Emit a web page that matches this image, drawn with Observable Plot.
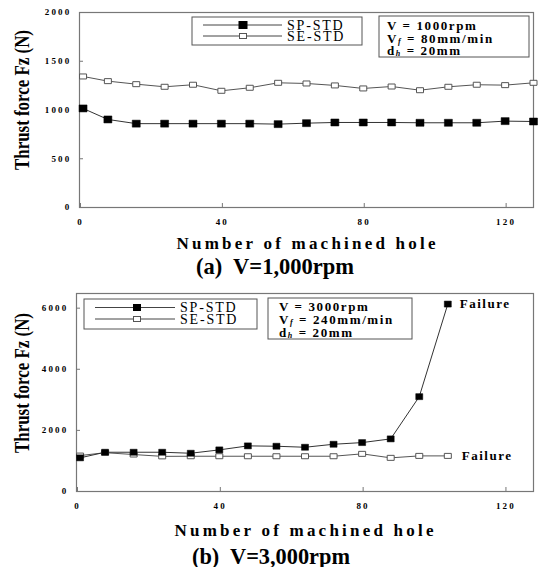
<!DOCTYPE html>
<html><head><meta charset="utf-8">
<script src="https://cdn.jsdelivr.net/npm/d3@7"></script>
<script src="https://cdn.jsdelivr.net/npm/@observablehq/plot@0.6"></script>
<style>
body{margin:0;background:#fff;}
#chart{width:544px;}
#chart svg{display:block;background:#fff;overflow:visible;}
</style></head><body><div id="chart"></div>
<script>
// ---- data ----
const holesA = [1,8,16,24,32,40,48,56,64,72,80,88,96,104,112,120,128];
const spStdA = [1016,903,860,860,860,860,860,855,865,872,872,872,869,869,869,886,882];
const seStdA = [1344,1296,1265,1238,1259,1197,1228,1279,1272,1252,1221,1241,1203,1238,1259,1255,1279];
const holesB = [1,8,16,24,32,40,48,56,64,72,80,88,96,104];
const spStdB = [1101,1285,1285,1285,1252,1362,1493,1481,1448,1546,1601,1722,3104,6134];
const seStdB = [1176,1270,1210,1150,1154,1154,1154,1154,1154,1154,1232,1101,1165,1165];
const seriesNames = ["SP-STD","SE-STD"];
const xTicks = [0,40,80,120];
const yTicksA = [0,500,1000,1500,2000];
const yTicksB = [0,2000,4000,6000];
const spindleA = "V = 1000rpm", feedA = " = 80mm/min";
const spindleB = "V = 3000rpm", feedB = " = 240mm/min";
const holeDia = " = 20mm";
const captionA = "(a)  V=1,000rpm", captionB = "(b)  V=3,000rpm";
const xTitle = "Number of machined hole";
const yTitle = "Thrust force Fz (N)";
const failureLabel = "Failure";

const serif = "'Liberation Serif','Times New Roman',serif";

function box(w, h) {
  return {draw(ctx) { ctx.rect(-w/2, -h/2, w, h); }};
}

function txt(sel, o) {
  const t = sel.append("text")
    .attr("x", o.x).attr("y", o.y)
    .attr("font-family", serif)
    .attr("font-size", o.size)
    .attr("font-weight", o.weight || "normal")
    .attr("text-anchor", o.anchor || "start")
    .attr("dominant-baseline", "central")
    .attr("fill", "#000")
    .style("white-space", "pre");
  if (o.spacing) t.attr("letter-spacing", o.spacing);
  if (o.rotate) t.attr("transform", `rotate(${o.rotate},${o.x},${o.y})`);
  if (o.length) t.attr("textLength", o.length).attr("lengthAdjust", o.adjust || "spacing");
  t.text(o.text);
  return t;
}

function subText(sel, x, y, main, sub, rest) {
  const t = sel.append("text").attr("x", x).attr("y", y)
    .attr("font-family", serif).attr("font-size", 13).attr("font-weight", "bold")
    .attr("text-anchor", "start").attr("fill", "#000")
    .attr("dominant-baseline", "central").attr("letter-spacing", 1.6).style("white-space", "pre");
  t.append("tspan").text(main);
  t.append("tspan").attr("font-size", 8).attr("font-style", "italic").attr("dy", 3).text(sub);
  t.append("tspan").attr("dy", -3).text(rest);
}

function panel(cfg) {
  const sp = cfg.holes.map((h, i) => ({hole: h, force: cfg.sp[i], series: seriesNames[0]}));
  const se = cfg.holes.map((h, i) => ({hole: h, force: cfg.se[i], series: seriesNames[1]}));
  const marks = [
    Plot.frame({stroke: "#777", strokeWidth: 1.2}),
    Plot.axisX({ticks: xTicks, tickFormat: d => String(d), tickSize: -4, tickPadding: 15, label: null, stroke: "#777",
      fontSize: 9, fontWeight: "bold", fontFamily: serif, dx: 1}),
    Plot.axisY({ticks: cfg.yTicks, tickFormat: d => String(d), tickSize: -4, tickPadding: 12, label: null, stroke: "#777",
      fontSize: 9, fontWeight: "bold", fontFamily: serif}),
    Plot.line(se, {x: "hole", y: "force", stroke: "#555", strokeWidth: 1}),
    Plot.line(sp, {x: "hole", y: "force", stroke: "#333", strokeWidth: 1}),
    Plot.dot(se, {x: "hole", y: "force", symbol: box(cfg.seW, cfg.seH), r: 3, fill: "white", stroke: "#555", strokeWidth: 1}),
    Plot.dot(sp, {x: "hole", y: "force", symbol: box(cfg.spW, cfg.spH), r: 3, fill: "black", stroke: "black", strokeWidth: 0.5})
  ];
  if (cfg.failure) {
    marks.push(Plot.text([sp[sp.length - 1]], {x: "hole", y: "force", text: () => failureLabel, dx: 12,
      textAnchor: "start", fontSize: 13, fontWeight: "bold", fontFamily: serif}));
    marks.push(Plot.text([se[se.length - 1]], {x: "hole", y: "force", text: () => failureLabel, dx: 14,
      textAnchor: "start", fontSize: 13, fontWeight: "bold", fontFamily: serif}));
  }
  const svg = Plot.plot({
    width: 544, height: cfg.height,
    marginLeft: cfg.marginLeft, marginRight: 11, marginTop: cfg.marginTop, marginBottom: cfg.marginBottom,
    x: {domain: [0, 128]},
    y: {domain: [0, cfg.yMax]},
    style: {fontFamily: serif, background: "#fff", color: "#000"},
    marks
  });
  const s = d3.select(svg);
  s.selectAll('g[aria-label$="tick label"]').attr("letter-spacing", 2.2).attr("fill", "#000");
  s.selectAll('g[aria-label="text"]').attr("letter-spacing", 1.5);

  // legend box
  const L = cfg.legend;
  const lg = s.append("g");
  lg.append("rect").attr("x", L.x0).attr("y", L.y0).attr("width", L.x1 - L.x0).attr("height", L.y1 - L.y0)
    .attr("fill", "white").attr("stroke", "#555").attr("stroke-width", 1);
  [L.r1, L.r2].forEach((ry, i) => {
    lg.append("line").attr("x1", L.lx0).attr("x2", L.lx1).attr("y1", ry).attr("y2", ry)
      .attr("stroke", "#444").attr("stroke-width", 1);
    const w = i === 0 ? cfg.spW : cfg.seW, h = i === 0 ? cfg.spH : cfg.seH;
    lg.append("rect").attr("x", L.mx - w / 2).attr("y", ry - h / 2).attr("width", w).attr("height", h)
      .attr("fill", i === 0 ? "black" : "white").attr("stroke", i === 0 ? "black" : "#555");
    txt(lg, {x: L.tx, y: ry, text: seriesNames[i], size: 14, spacing: 1.8});
  });
  // conditions box
  const C = cfg.cond;
  const cg = s.append("g");
  cg.append("rect").attr("x", C.x0).attr("y", C.y0).attr("width", C.x1 - C.x0).attr("height", C.y1 - C.y0)
    .attr("fill", "white").attr("stroke", "#555").attr("stroke-width", 1);
  txt(cg, {x: C.tx, y: C.r[0], text: cfg.spindle, size: 13, weight: "bold", spacing: 1.6});
  subText(cg, C.tx, C.r[1], "V", "f", cfg.feed);
  subText(cg, C.tx, C.r[2], "d", "h", holeDia);

  // titles
  txt(s, {x: 22, y: cfg.yTitleY, text: yTitle, size: 20, weight: "bold", anchor: "middle", rotate: -90, length: 140, adjust: "spacingAndGlyphs"});
  txt(s, {x: cfg.xTitleX, y: cfg.xTitleY, text: xTitle, size: 17, weight: "bold", anchor: "middle", length: 259});
  txt(s, {x: cfg.capX, y: cfg.capY, text: cfg.caption, size: 23, weight: "bold", anchor: "middle", length: 158, adjust: "spacingAndGlyphs"});
  return svg;
}

const root = document.getElementById("chart");
root.appendChild(panel({
  holes: holesA, sp: spStdA, se: seStdA, yMax: 2000, yTicks: yTicksA,
  height: 283, marginLeft: 79, marginTop: 12, marginBottom: 76,
  spW: 8, spH: 7, seW: 7, seH: 5,
  legend: {x0: 192, y0: 17, x1: 362, y1: 45, r1: 25, r2: 36, lx0: 203, lx1: 282, mx: 243, tx: 287},
  cond: {x0: 379, y0: 16, x1: 529, y1: 57, tx: 387, r: [25, 37.5, 49.5]},
  spindle: spindleA, feed: feedA, caption: captionA,
  yTitleY: 100, xTitleX: 306, xTitleY: 243, capX: 275, capY: 266,
  failure: false
}));
root.appendChild(panel({
  holes: holesB, sp: spStdB, se: seStdB, yMax: 6480, yTicks: yTicksB,
  height: 284, marginLeft: 76, marginTop: 10, marginBottom: 76,
  spW: 7, spH: 6, seW: 7, seH: 5,
  legend: {x0: 84, y0: 16, x1: 257, y1: 46, r1: 24.5, r2: 36, lx0: 95, lx1: 175, mx: 137, tx: 180},
  cond: {x0: 268, y0: 15, x1: 412, y1: 56, tx: 279, r: [23, 35.5, 48.5]},
  spindle: spindleB, feed: feedB, caption: captionB,
  yTitleY: 100, xTitleX: 304, xTitleY: 247, capX: 271, capY: 273,
  failure: true
}));
</script></body></html>
